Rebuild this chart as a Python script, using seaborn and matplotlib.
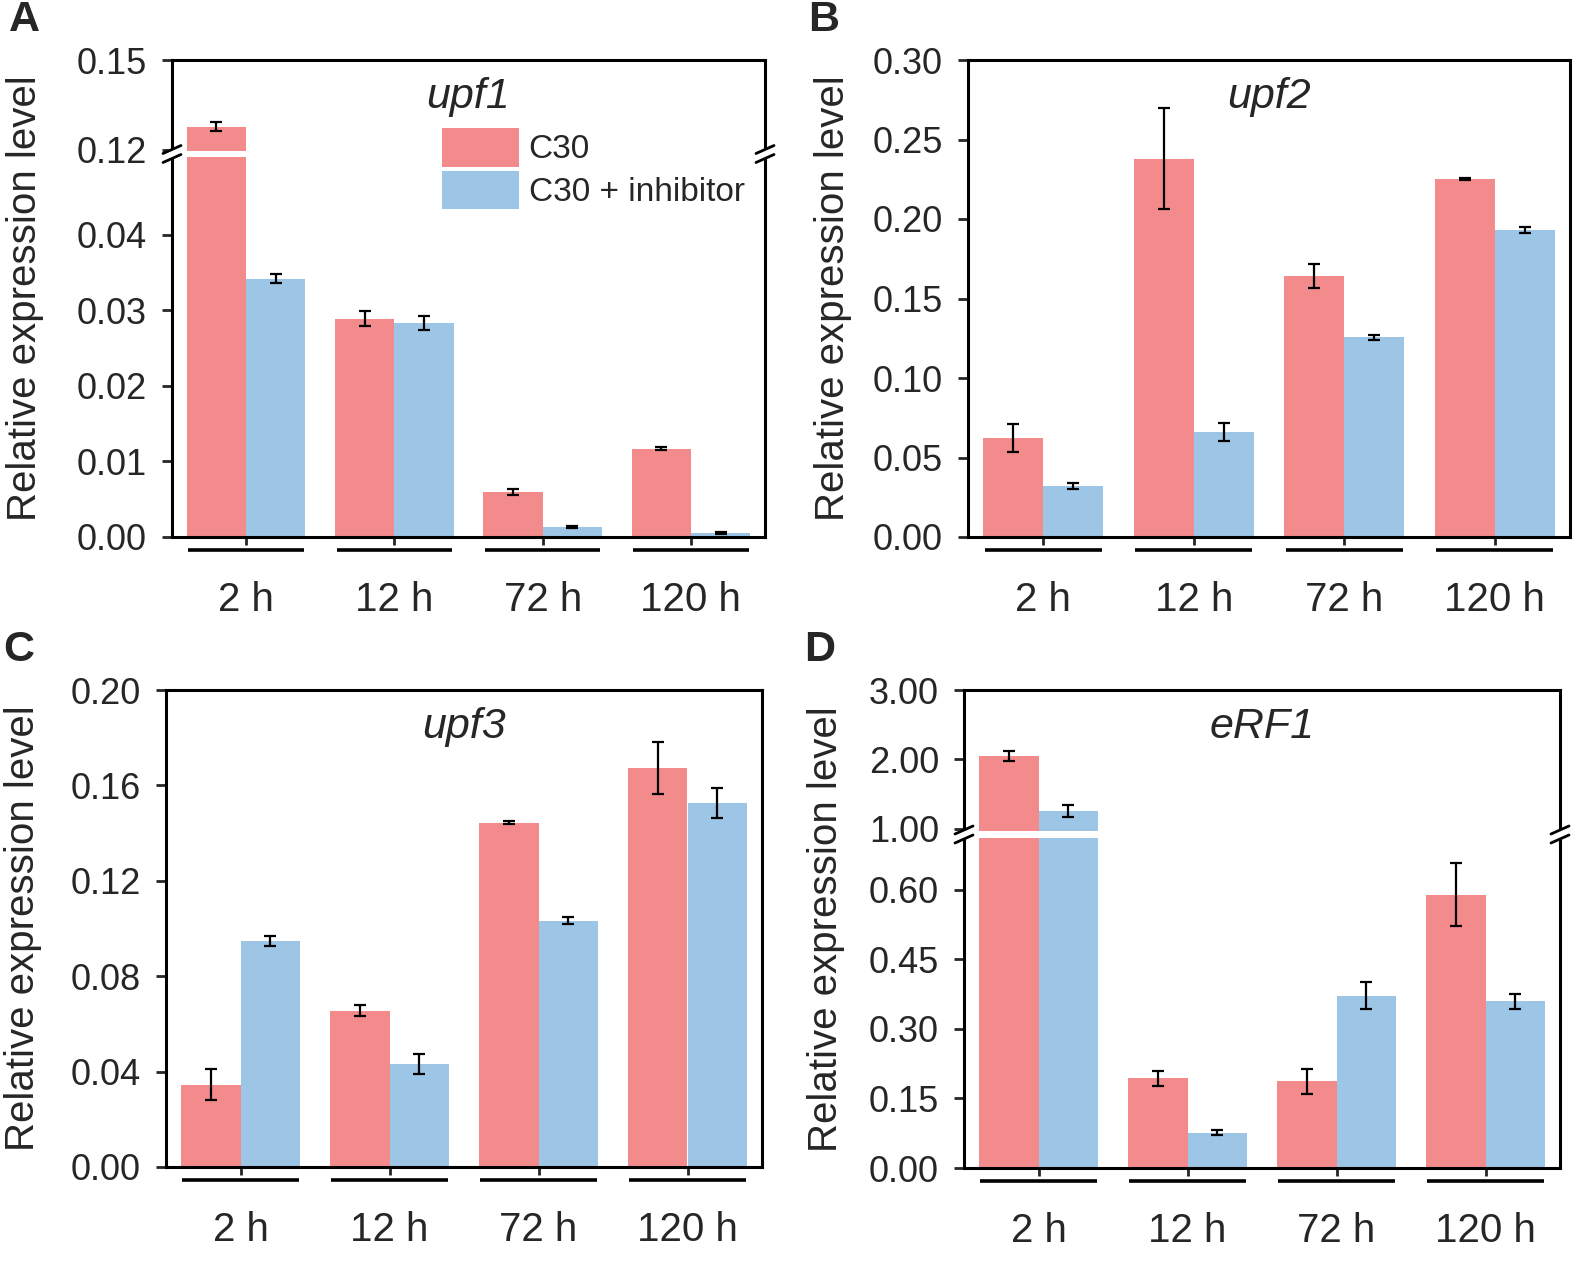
import numpy as np
import pandas as pd
import seaborn as sns
import matplotlib.pyplot as plt
from matplotlib import font_manager

sns.set_style("white")

names = {f.name for f in font_manager.fontManager.ttflist}
NARROW = "Liberation Sans Narrow" if "Liberation Sans Narrow" in names else "Liberation Sans"
plt.rcParams["font.family"] = ["Liberation Sans", "DejaVu Sans"]

times = ["2 h", "12 h", "72 h", "120 h"]
groups = ["C30", "C30 + inhibitor"]

upf1_c30 = [0.1277, 0.0289, 0.0059, 0.0117]
upf1_c30_err = [0.0015, 0.0010, 0.0004, 0.0002]
upf1_inh = [0.0342, 0.0283, 0.0013, 0.0005]
upf1_inh_err = [0.0006, 0.0009, 0.0001, 0.0001]

upf2_c30 = [0.062, 0.238, 0.164, 0.225]
upf2_c30_err = [0.0088, 0.032, 0.0075, 0.0007]
upf2_inh = [0.032, 0.066, 0.1255, 0.193]
upf2_inh_err = [0.002, 0.0057, 0.0015, 0.0017]

upf3_c30 = [0.0345, 0.0656, 0.1443, 0.1672]
upf3_c30_err = [0.0066, 0.0024, 0.0006, 0.011]
upf3_inh = [0.0948, 0.043, 0.1033, 0.1527]
upf3_inh_err = [0.002, 0.0042, 0.0015, 0.0062]

erf1_c30 = [2.05, 0.194, 0.187, 0.59]
erf1_c30_err = [0.07, 0.016, 0.0275, 0.068]
erf1_inh = [1.255, 0.0758, 0.372, 0.36]
erf1_inh_err = [0.09, 0.0055, 0.0287, 0.016]

colors = ["#F38B8C", "#9DC5E6"]

W, H = 1594, 1266
fig = plt.figure(figsize=(W / 100, H / 100), dpi=100)


def add_ax(l, r, t, b):
    return fig.add_axes([l / W, 1 - b / H, (r - l) / W, (b - t) / H])


def broken(y_pts, v_pts):
    y_pts = np.asarray(y_pts, float)
    v_pts = np.asarray(v_pts, float)

    def piece(x, a, b):
        x = np.asarray(x, float)
        out = np.interp(x, a, b)
        s0 = (b[1] - b[0]) / (a[1] - a[0])
        s1 = (b[-1] - b[-2]) / (a[-1] - a[-2])
        out = np.where(x < a[0], b[0] + (x - a[0]) * s0, out)
        out = np.where(x > a[-1], b[-1] + (x - a[-1]) * s1, out)
        return out

    return (lambda x: piece(x, y_pts, v_pts)), (lambda v: piece(v, v_pts, y_pts))


panels = [
    dict(letter="A", gene="upf1", box=(172, 765, 60, 537), lab_x=44, c30=upf1_c30, c30e=upf1_c30_err,
         inh=upf1_inh, inhe=upf1_inh_err, lim=0.15,
         ticks=[0, 0.01, 0.02, 0.03, 0.04, 0.12, 0.15],
         brk=([0, 0.0503, 0.1195, 0.15], [0, 380, 386, 477])),
    dict(letter="B", gene="upf2", box=(968, 1570, 60, 537), lab_x=852, c30=upf2_c30, c30e=upf2_c30_err,
         inh=upf2_inh, inhe=upf2_inh_err, lim=0.30,
         ticks=[0, 0.05, 0.10, 0.15, 0.20, 0.25, 0.30], brk=None),
    dict(letter="C", gene="upf3", box=(166, 762, 690, 1167), lab_x=42, c30=upf3_c30, c30e=upf3_c30_err,
         inh=upf3_inh, inhe=upf3_inh_err, lim=0.20,
         ticks=[0, 0.04, 0.08, 0.12, 0.16, 0.20], brk=None),
    dict(letter="D", gene="eRF1", box=(964, 1560, 690, 1168), lab_x=845, c30=erf1_c30, c30e=erf1_c30_err,
         inh=erf1_inh, inhe=erf1_inh_err, lim=3.0,
         ticks=[0, 0.15, 0.30, 0.45, 0.60, 1.00, 2.00, 3.00],
         brk=([0, 0.712, 0.97, 3.0], [0, 330, 337, 478])),
]

for p in panels:
    l, r, t, b = p["box"]
    ax = add_ax(l, r, t, b)
    df = pd.DataFrame({
        "time": times * 2,
        "group": [groups[0]] * 4 + [groups[1]] * 4,
        "value": p["c30"] + p["inh"],
    })
    sns.barplot(data=df, x="time", y="value", hue="group", hue_order=groups,
                palette=colors, errorbar=None, width=0.8, linewidth=0,
                saturation=1, ax=ax, legend=(p["letter"] == "A"))
    for cont, m, e in zip(ax.containers, [p["c30"], p["inh"]], [p["c30e"], p["inhe"]]):
        xs = [bar.get_x() + bar.get_width() / 2 for bar in cont]
        ax.errorbar(xs, m, yerr=e, fmt="none", ecolor="black", elinewidth=1.6,
                    capsize=4, capthick=1.6, zorder=4)

    if p["brk"] is not None:
        fwd, inv = broken(*p["brk"])
        ax.set_yscale("function", functions=(fwd, inv))
        ylo, yhi = p["brk"][0][1], p["brk"][0][2]
        ax.axhspan(ylo, yhi, color="white", zorder=3, lw=0)
    ax.set_ylim(0, p["lim"])
    ax.set_xlim(-0.5, 3.5)
    ax.set_yticks(p["ticks"])
    ax.set_yticklabels(["%.2f" % v for v in p["ticks"]], family=NARROW, fontsize=26)
    ax.set_xticks(range(4))
    ax.set_xticklabels(times, fontsize=29)
    ax.tick_params(axis="y", direction="out", length=7, width=2, left=True, pad=11)
    ax.tick_params(axis="x", direction="out", length=6, width=2, bottom=True, pad=26)
    for s in ax.spines.values():
        s.set_linewidth(2.2)
        s.set_color("black")
    ax.set_xlabel("")
    ax.set_ylabel("Relative expression level", fontsize=29)
    ax.yaxis.set_label_coords((p["lab_x"] - l) / (r - l), 0.5)
    ax.text(0.5, 1 - 37 / (b - t), p["gene"], transform=ax.transAxes, ha="center",
            va="center", fontsize=31, style="italic")

    # group lines beneath the axis
    xt = ax.get_xaxis_transform()
    for i in range(4):
        ax.plot([i - 0.39, i + 0.39], [-13 / (b - t)] * 2, color="black", lw=2.6,
                transform=xt, clip_on=False, solid_capstyle="butt")

    # break marks on both spines
    if p["brk"] is not None:
        fwd, _ = broken(*p["brk"])
        v0 = float(fwd(0.0))
        vtop = float(fwd(p["lim"]))
        vmid = (float(fwd(ylo)) + float(fwd(yhi))) / 2
        yc = (vmid - v0) / (vtop - v0)
        hpx = b - t
        wpx = r - l
        for x0 in (0.0, 1.0):
            gap = 4.5 / hpx
            ax.fill([x0 - 3 / wpx, x0 + 3 / wpx, x0 + 3 / wpx, x0 - 3 / wpx],
                    [yc - gap - 3 / hpx, yc - gap + 3 / hpx, yc + gap + 3 / hpx, yc + gap - 3 / hpx],
                    color="white", transform=ax.transAxes, clip_on=False, zorder=5, lw=0)
            for off in (-gap, gap):
                ax.plot([x0 - 9 / wpx, x0 + 9 / wpx],
                        [yc + off - 4 / hpx, yc + off + 4 / hpx], color="black", lw=2,
                        transform=ax.transAxes, clip_on=False, zorder=6)

    if p["letter"] == "A":
        h, lab = ax.get_legend_handles_labels()
        ax.legend(h, lab, loc="upper left", bbox_to_anchor=((442 - l) / (r - l), 1 - (128 - t) / (b - t)),
                  frameon=False, fontsize=24, handlelength=2.3, handleheight=1.4,
                  labelspacing=0.12, handletextpad=0.3, borderpad=0, borderaxespad=0)

    fig.text((l - 163) / W if p["letter"] in "AC" else (l - 160) / W, 1 - (t - 40) / H,
             p["letter"], fontsize=31, fontweight="bold", ha="left", va="center")

fig.savefig("out.png", dpi=100)
